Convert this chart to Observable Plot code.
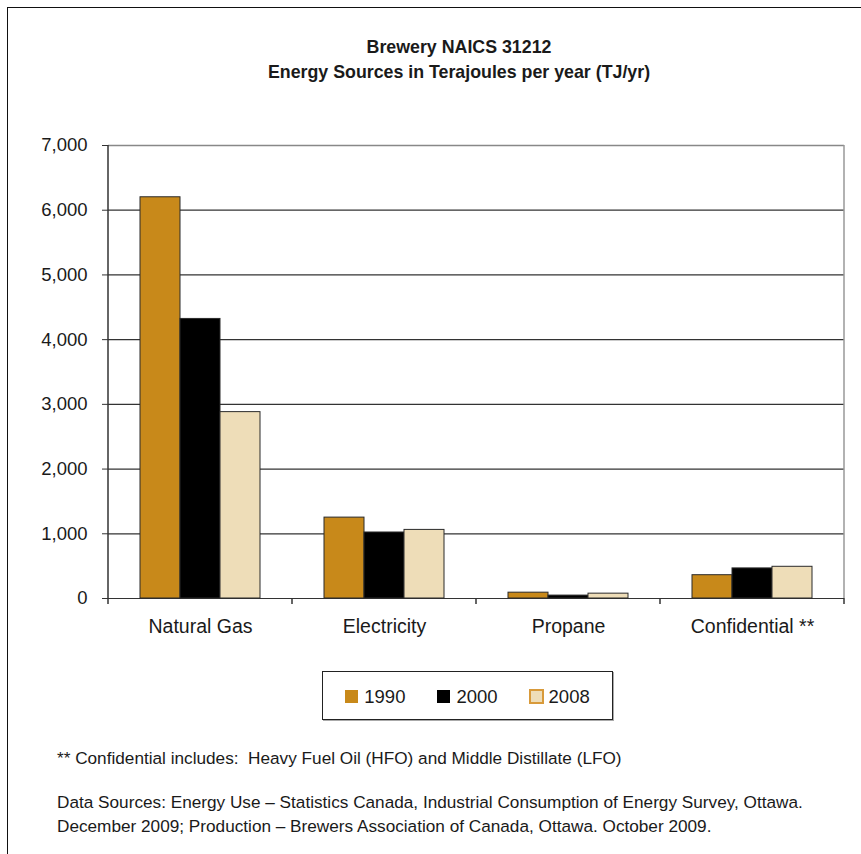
<!DOCTYPE html>
<html>
<head>
<meta charset="utf-8">
<script src="https://cdn.jsdelivr.net/npm/d3@7"></script>
<script src="https://cdn.jsdelivr.net/npm/@observablehq/plot@0.6"></script>
<style>
  body { margin: 0; background: #fff; }
  #page { position: relative; width: 861px; height: 854px; overflow: hidden;
          font-family: "Liberation Sans", Arial, sans-serif; color: #1a1a1a; }
  #edge { position: absolute; left: 7px; top: 7px; right: -10px; bottom: -10px;
          border-top: 1.5px solid #111; border-left: 1.5px solid #111; }
  .title { position: absolute; left: 0; width: 918px; text-align: center;
           font-weight: bold; font-size: 17.8px; line-height: 20px; }
  #chart { position: absolute; left: 0; top: 130px; }
  #legendBox { position: absolute; left: 322px; top: 671px; width: 289px; height: 47px;
               border: 1px solid #222; box-shadow: 1px 1px 0 #aaa;
               display: flex; align-items: center; justify-content: center; }
  .yr-swatches { margin: 0 !important; font-size: 18.5px !important;
                 font-family: "Liberation Sans", Arial, sans-serif !important;
                 color: #1a1a1a; min-height: 0 !important; padding-top: 2px; }
  .yr-swatch { margin-right: 32px !important; }
  .yr-swatch:last-child { margin-right: 0 !important; }
  .yr-swatch > svg { margin-right: 6px !important; }
  .note { position: absolute; left: 57px; font-size: 17.2px; line-height: 24px; white-space: nowrap; }
</style>
</head>
<body>
<div id="page">
  <div id="edge"></div>
  <div class="title" style="top:37px">Brewery NAICS 31212</div>
  <div class="title" style="top:62px">Energy Sources in Terajoules per year (TJ/yr)</div>
  <div id="chart"></div>
  <div id="legendBox"></div>
  <div class="note" style="top:746px">** Confidential includes:&nbsp; Heavy Fuel Oil (HFO) and Middle Distillate (LFO)</div>
  <div class="note" style="top:790px">Data Sources: Energy Use – Statistics Canada, Industrial Consumption of Energy Survey, Ottawa.<br>December 2009; Production – Brewers Association of Canada, Ottawa. October 2009.</div>
</div>
<script>
// Energy sources for breweries (TJ/yr)
const categories = ["Natural Gas", "Electricity", "Propane", "Confidential **"];
const years = ["1990", "2000", "2008"];
const tj1990 = [6200, 1250, 90, 360];
const tj2000 = [4320, 1020, 45, 465];
const tj2008 = [2880, 1060, 75, 490];
const yTicks = [0, 1000, 2000, 3000, 4000, 5000, 6000, 7000];
const yearColors = ["#C8891A", "#000000", "#EEDDB8"];

const series = [tj1990, tj2000, tj2008];
const rows = categories.flatMap((source, i) =>
  years.map((year, k) => ({source, year, tj: series[k][i]}))
);

const font = "'Liberation Sans', Arial, sans-serif";

const chart = Plot.plot({
  width: 861,
  height: 518,
  marginLeft: 106,
  marginRight: 16,
  marginTop: 15,
  marginBottom: 50,
  style: {fontFamily: font, fontSize: "18px", color: "#1a1a1a", background: "transparent", overflow: "visible"},
  fx: {domain: categories, paddingInner: 0, paddingOuter: 0, label: null},
  x: {domain: years, paddingInner: 0, paddingOuter: 0.75, axis: null},
  y: {domain: [0, 7000], label: null},
  color: {domain: years, range: yearColors},
  marks: [
    Plot.ruleY(yTicks.slice(0, -1), {stroke: "#333", strokeWidth: 1.2}),
    Plot.ruleY(yTicks.slice(-1), {stroke: "#888", strokeWidth: 1.5}),
    Plot.barY(rows, {fx: "source", x: "year", y: "tj", fill: "year", stroke: "#2a2a2a", strokeWidth: 1}),
    Plot.axisY(yTicks, {anchor: "left", tickSize: 6, tickPadding: 15, tickFormat: d3.format(","), fontSize: 18.5, stroke: "#333", label: null}),
    Plot.axisFx({anchor: "bottom", tickSize: 0, tickPadding: 21, fontSize: 19.5, label: null})
  ]
});

// Axis line, right border and category boundary ticks, placed from the plot's own scales
const fxScale = chart.scale("fx");
const yScale = chart.scale("y");
const svg = d3.select(chart);
const xLeft = fxScale.apply(categories[0]);
const xRight = fxScale.apply(categories[categories.length - 1]) + fxScale.bandwidth;
const yTop = yScale.apply(yTicks[yTicks.length - 1]);
const yBase = yScale.apply(0);
svg.append("line").attr("x1", xRight).attr("x2", xRight).attr("y1", yTop).attr("y2", yBase)
  .attr("stroke", "#999").attr("stroke-width", 1.5);
svg.append("line").attr("x1", xLeft).attr("x2", xLeft).attr("y1", yTop).attr("y2", yBase)
  .attr("stroke", "#333").attr("stroke-width", 1.5);
const bounds = categories.map(c => fxScale.apply(c)).concat([xRight]);
svg.append("g").selectAll("line").data(bounds).join("line")
  .attr("x1", d => d).attr("x2", d => d).attr("y1", yBase).attr("y2", yBase + 6)
  .attr("stroke", "#333").attr("stroke-width", 1.5);

document.getElementById("chart").append(chart);

const legend = Plot.legend({
  color: {domain: years, range: yearColors},
  legend: "swatches",
  swatchSize: 13,
  className: "yr"
});
d3.select(legend).selectAll("svg").filter((d, i) => i === 2).selectAll("rect")
  .attr("stroke", "#D89A3A").attr("stroke-width", 2);
document.getElementById("legendBox").append(legend);
</script>
</body>
</html>
